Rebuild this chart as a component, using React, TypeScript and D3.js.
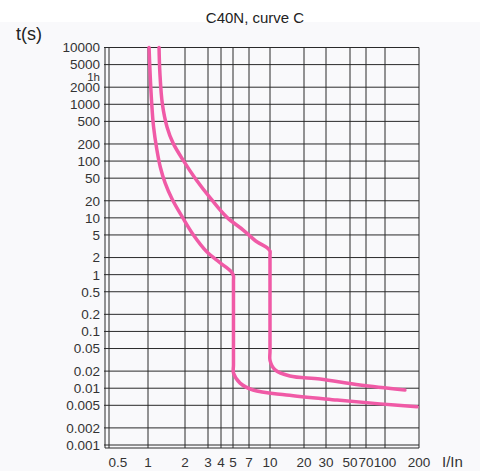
import React from "react";
import * as d3 from "d3";

// Tick values
const xTicks = [0.5, 1, 2, 3, 4, 5, 7, 10, 20, 30, 50, 70, 100, 200];
const xTickLabels = ["0.5", "1", "2", "3", "4", "5", "7", "10", "20", "30", "50", "70", "100", "200"];
const yTicks = [10000, 5000, 2000, 1000, 500, 200, 100, 50, 20, 10, 5, 2, 1, 0.5, 0.2, 0.1, 0.05, 0.02, 0.01, 0.005, 0.002, 0.001];
const yTickLabels = ["10000", "5000", "2000", "1000", "500", "200", "100", "50", "20", "10", "5", "2", "1", "0.5", "0.2", "0.1", "0.05", "0.02", "0.01", "0.005", "0.002", "0.001"];

// Lower (minimum) tripping curve
const lowI = [1.02, 1.04, 1.07, 1.11, 1.18, 1.26, 1.38, 1.57, 1.92, 2.32, 2.95, 3.85, 4.8, 5.05, 5.05, 5.05, 5.05, 5.8, 7.5, 14, 38, 91, 192];
const lowT = [10000, 3500, 1100, 400, 160, 78, 41, 21.5, 10, 5, 2.5, 1.66, 1.15, 0.95, 0.8, 0.026, 0.0185, 0.0123, 0.0093, 0.0076, 0.0062, 0.0053, 0.0047];

// Upper (maximum) tripping curve
const highI = [1.23, 1.25, 1.31, 1.43, 1.6, 1.93, 2.39, 3.15, 4.45, 6.2, 8.0, 9.5, 10, 10, 10, 10, 11.1, 15, 26.9, 61.7, 150];
const highT = [10000, 3500, 1000, 395, 207, 104, 50, 22.5, 10.3, 6.1, 3.8, 3.0, 2.6, 2.2, 0.045, 0.031, 0.021, 0.0164, 0.0145, 0.0114, 0.0093];

// layout
const W = 480;
const H = 471;
const xKnotPx = [109, 148, 185, 208, 221, 233, 249, 270, 304, 326, 350, 366, 385, 419];
const plotLeft = 105;
const plotRight = 419;
const plotTop = 47.5;
const plotBottom = 448;

const xLin = d3.scaleLinear().domain(xTicks.map((v) => Math.log10(v))).range(xKnotPx);
const x = (v: number) => xLin(Math.log10(v));
const y = d3.scaleLog().domain([0.001, 10000]).range([445, 47.5]);

const pink = "#f05aa6";
const grid = "#2a2a2a";
const font = "'Liberation Sans', Arial, sans-serif";

export default function App() {
  const line = d3
    .line<[number, number]>()
    .x((d) => x(d[0]))
    .y((d) => y(d[1]))
    .curve(d3.curveCatmullRom.alpha(0.5));
  const lowPts = lowI.map((v, i) => [v, lowT[i]] as [number, number]);
  const highPts = highI.map((v, i) => [v, highT[i]] as [number, number]);

  return (
    <svg
      width={W}
      height={H}
      style={{ position: "absolute", left: 0, top: 0, background: "#fff" }}
      fontFamily={font}
    >
      <rect x={0} y={22} width={W} height={H - 22} fill="#f9f9fb" />
      <text x={255} y={23} fontSize={15} textAnchor="middle" fill="#222">
        C40N, curve C
      </text>
      <text x={16} y={40} fontSize={18} fill="#222">
        t(s)
      </text>
      {/* horizontal grid */}
      {yTicks.map((t) => (
        <line key={"h" + t} x1={plotLeft - 1} x2={plotRight} y1={y(t)} y2={y(t)} stroke={grid} strokeWidth={1} />
      ))}
      <line x1={plotLeft} x2={plotRight} y1={plotBottom} y2={plotBottom} stroke={grid} strokeWidth={1} />
      {/* vertical grid */}
      {xTicks.map((v) => (
        <line key={"v" + v} x1={x(v)} x2={x(v)} y1={plotTop} y2={plotBottom} stroke={grid} strokeWidth={1} />
      ))}
      <line x1={plotLeft} x2={plotLeft} y1={plotTop} y2={plotBottom} stroke={grid} strokeWidth={1} />
      {/* y labels */}
      {yTicks.map((t, i) => (
        <text key={"yl" + t} x={100} y={y(t)} dy="0.36em" fontSize={13.5} textAnchor="end" fill="#333">
          {yTickLabels[i]}
        </text>
      ))}
      <text x={100} y={80.5} fontSize={11.5} textAnchor="end" fill="#333">
        1h
      </text>
      {/* x labels */}
      {xTicks.map((v, i) => (
        <text
          key={"xl" + v}
          x={i === 0 ? 118 : x(v)}
          y={467}
          fontSize={13.5}
          textAnchor="middle"
          fill="#333"
        >
          {xTickLabels[i]}
        </text>
      ))}
      <text x={442} y={467} fontSize={15} fill="#333">
        I/In
      </text>
      {/* curves */}
      <path d={line(lowPts) || ""} fill="none" stroke={pink} strokeWidth={3.5} strokeLinecap="round" strokeLinejoin="round" />
      <path d={line(highPts) || ""} fill="none" stroke={pink} strokeWidth={3.5} strokeLinecap="round" strokeLinejoin="round" />
    </svg>
  );
}
